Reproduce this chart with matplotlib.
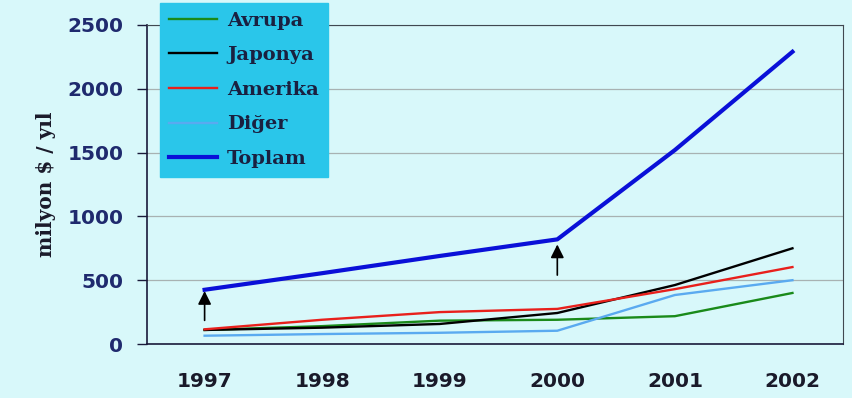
import matplotlib.pyplot as plt

# Yearly figures, million $ per year
years = ['1997', '1998', '1999', '2000', '2001', '2002']
avrupa = [110, 140, 183, 190, 218, 400]
japonya = [110, 128, 157, 243, 462, 750]
amerika = [115, 190, 250, 275, 430, 603]
diger = [65, 78, 88, 104, 384, 500]
toplam = [425, 555, 690, 820, 1520, 2290]

# arrows under the total line: (year index, tail value, tip value)
arrows = [(0, 185, 415), (3, 540, 780)]

bg = '#d8f8fa'
navy = '#1f2a6e'

fig = plt.figure(figsize=(8.52, 3.98), dpi=100, facecolor=bg)
ax = fig.add_axes([147 / 852, 54 / 398, 696 / 852, 319 / 398], facecolor=bg)

x = list(range(len(years)))
ax.plot(x, avrupa, color='#1a8a1a', lw=1.7, label='Avrupa', zorder=3)
ax.plot(x, japonya, color='black', lw=1.7, label='Japonya', zorder=3)
ax.plot(x, amerika, color='#e8201c', lw=1.7, label='Amerika', zorder=3)
ax.plot(x, diger, color='#5aaaf0', lw=1.7, label='Diğer', zorder=3)
ax.plot(x, toplam, color='#0a10d8', lw=3.0, label='Toplam', zorder=4)

for i, y0, y1 in arrows:
    ax.annotate('', xy=(x[i], y1), xytext=(x[i], y0),
                arrowprops=dict(arrowstyle='-|>', color='black', lw=1.2,
                                mutation_scale=20, shrinkA=0, shrinkB=0))

ax.set_xlim(-0.49, 5.43)
ax.set_ylim(0, 2500)
ax.set_yticks(range(0, 2501, 500))
ax.set_xticks(x)
ax.set_xticklabels(years)
ax.grid(axis='y', color='#a8b2b2', lw=0.9)
ax.set_axisbelow(True)

for side in ['top', 'right']:
    ax.spines[side].set_color('#404850')
    ax.spines[side].set_linewidth(0.8)
for side in ['left', 'bottom']:
    ax.spines[side].set_color('#1a1a3a')
    ax.spines[side].set_linewidth(1.2)

ax.tick_params(axis='y', direction='out', length=7, width=1, color='#1a1a3a',
               labelsize=14.5, labelcolor=navy, pad=10)
ax.tick_params(axis='x', length=0, labelsize=14.5, labelcolor='#1a1a2a', pad=20)
for lab in ax.get_xticklabels() + ax.get_yticklabels():
    lab.set_fontweight('bold')

ax.set_ylabel('milyon $ / yıl', family='DejaVu Serif', fontweight='bold',
              fontsize=14.5, color='#1a1a2a', labelpad=8)

leg = ax.legend(loc='upper left', bbox_to_anchor=(0.0187, 1.069), frameon=True,
                fancybox=False, facecolor='#2ac6ea', edgecolor='#2ac6ea',
                framealpha=1, handlelength=2.5, labelspacing=0.85,
                borderpad=0.45, handletextpad=0.5, borderaxespad=0,
                prop={'family': 'DejaVu Serif', 'weight': 'bold', 'size': 14})
for t in leg.get_texts():
    t.set_color('#1a2040')
leg.set_zorder(10)

fig.savefig('out.png', dpi=100, facecolor=bg)
